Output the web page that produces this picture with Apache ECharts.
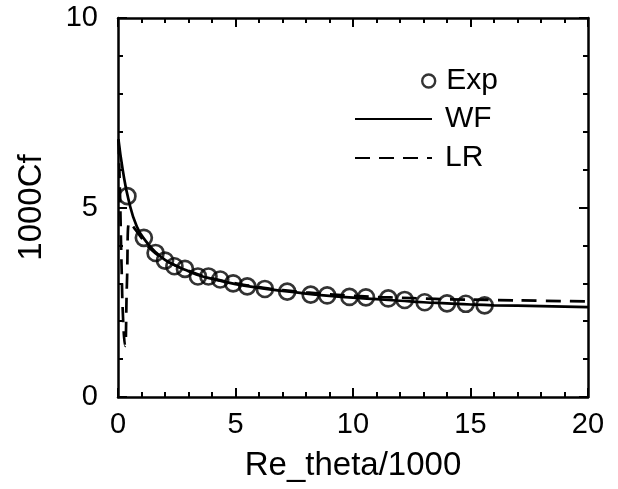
<!DOCTYPE html>
<html><head><meta charset="utf-8">
<script src="https://cdn.jsdelivr.net/npm/echarts@6/dist/echarts.min.js"></script>
<style>html,body{margin:0;padding:0;background:#fff}#c{width:618px;height:489px}</style>
</head><body><div id="c"></div>
<script>
const expX = [0.4,1.1,1.6,2.0,2.4,2.85,3.4,3.85,4.35,4.9,5.5,6.25,7.2,8.2,8.9,9.85,10.55,11.5,12.2,13.05,14.0,14.8,15.6];
const expY = [5.3,4.2,3.8,3.6,3.45,3.38,3.18,3.18,3.1,3.0,2.92,2.85,2.78,2.7,2.68,2.64,2.63,2.6,2.56,2.5,2.47,2.46,2.42];
const wfX = [0.02,0.2,0.45,0.8,1.2,1.6,2.0,2.5,3,3.5,4,5,6,7,8,9,10,11,12,13,14,15,16,18,20];
const wfY = [6.8,6.0,5.2,4.5,4.1,3.82,3.62,3.45,3.32,3.2,3.12,2.98,2.88,2.8,2.73,2.67,2.62,2.58,2.54,2.5,2.47,2.44,2.42,2.4,2.37];
const lrX = [0.02,0.08,0.15,0.22,0.3,0.38,0.48,0.7,1.0,1.4,2.0,2.5,3,4,5,6,7,8,9,10,11,12,13,14,16,18,20];
const lrY = [6.8,5.5,3.5,2.0,1.35,3.0,4.6,4.45,4.2,3.9,3.62,3.46,3.33,3.13,3.0,2.9,2.82,2.76,2.71,2.67,2.64,2.62,2.6,2.58,2.56,2.54,2.52];
const xTicks = [0,5,10,15,20];
const yTicks = [0,5,10];

const zip = (a,b)=>a.map((v,i)=>[v,b[i]]);
const font = 'Liberation Sans, Arial, Helvetica, sans-serif';
const lineCol = '#000';
function axisBase(show){
  return {
    type:'value', splitLine:{show:false},
    axisLine:{show:true,onZero:false,lineStyle:{color:lineCol,width:2.5}},
    axisTick:{show:true,inside:true,length:9,lineStyle:{color:lineCol,width:2}},
    minorTick:{show:true,splitNumber:5,length:5,lineStyle:{color:lineCol,width:2}},
    axisLabel:{show:show,color:'#000',fontSize:29,fontFamily:font}
  };
}
const chart = echarts.init(document.getElementById('c'),null,{renderer:'canvas'});
chart.setOption({
  animation:false,
  backgroundColor:'#fff',
  grid:{left:118,right:30,top:18,bottom:92,containLabel:false},
  xAxis:[
    Object.assign(axisBase(true),{position:'bottom',min:xTicks[0],max:xTicks[xTicks.length-1],interval:5,
      name:'Re_theta/1000',nameLocation:'middle',nameGap:52,
      nameTextStyle:{color:'#000',fontSize:33,fontFamily:font},
      axisLabel:{show:true,color:'#000',fontSize:29,fontFamily:font,margin:13}}),
    Object.assign(axisBase(false),{position:'top',min:xTicks[0],max:xTicks[xTicks.length-1],interval:5})
  ],
  yAxis:[
    Object.assign(axisBase(true),{position:'left',min:yTicks[0],max:yTicks[yTicks.length-1],interval:5,
      name:'1000Cf',nameLocation:'middle',nameGap:70,
      nameTextStyle:{color:'#000',fontSize:33,fontFamily:font},
      axisLabel:{show:true,color:'#000',fontSize:29,fontFamily:font,margin:20}}),
    Object.assign(axisBase(false),{position:'right',min:yTicks[0],max:yTicks[yTicks.length-1],interval:5})
  ],
  legend:[
    {data:[{name:'Exp',icon:'circle',itemStyle:{color:'rgba(0,0,0,0)',borderColor:'#000',borderWidth:2.4}}],
     left:416,top:61,itemWidth:13,itemHeight:13,
     textStyle:{color:'#000',fontSize:30,fontFamily:font,padding:[0,0,0,6]}},
    {data:[{name:'WF',itemStyle:{opacity:0}}],left:349,top:99,itemWidth:77,itemHeight:14,
     textStyle:{color:'#000',fontSize:30,fontFamily:font,padding:[0,0,0,8]}},
    {data:[{name:'LR',itemStyle:{opacity:0}}],left:349,top:138,itemWidth:77,itemHeight:14,
     textStyle:{color:'#000',fontSize:30,fontFamily:font,padding:[0,0,0,8]}}
  ],
  series:[
    {name:'WF',type:'line',data:zip(wfX,wfY),showSymbol:false,symbol:'none',smooth:true,
     lineStyle:{color:'#000',width:2.7},itemStyle:{color:'#000'},z:2},
    {name:'LR',type:'line',data:zip(lrX,lrY),showSymbol:false,symbol:'none',smooth:true,
     lineStyle:{color:'#000',width:2.7,type:[15,9]},itemStyle:{color:'#000'},z:2},
    {name:'Exp',type:'scatter',data:zip(expX,expY),symbol:'circle',symbolSize:16,
     itemStyle:{color:'rgba(0,0,0,0)',borderColor:'#000',borderWidth:2.7},z:3}
  ]
});
</script></body></html>
